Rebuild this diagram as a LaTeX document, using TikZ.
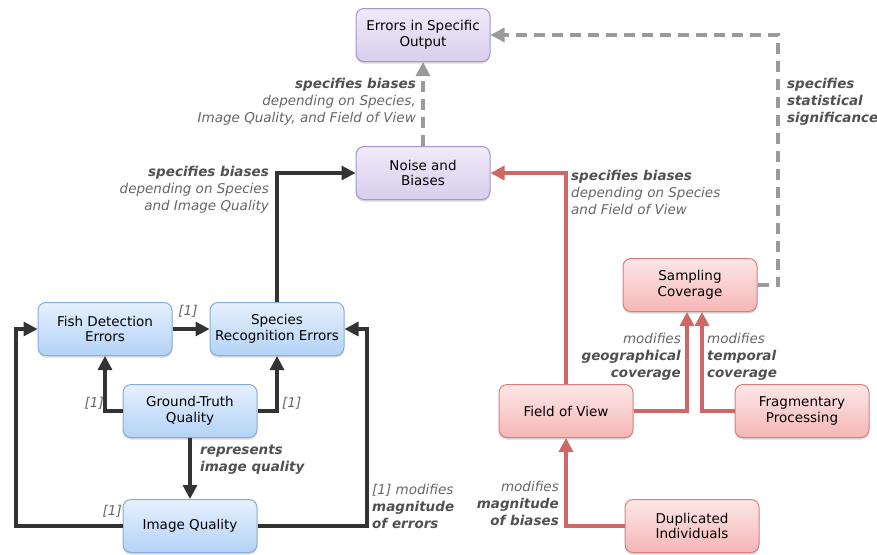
\documentclass[tikz,border=0pt]{standalone}
\usepackage{fontspec}
\setmainfont{DejaVu Sans}[BoldFont={DejaVu Sans Bold},ItalicFont={DejaVu Sans Oblique},BoldItalicFont={DejaVu Sans Bold Oblique}]
\usetikzlibrary{arrows.meta,shadows}
\definecolor{bluetop}{HTML}{E6F0FD}
\definecolor{bluebot}{HTML}{B3D3F7}
\definecolor{bluedraw}{HTML}{86ACDB}
\definecolor{purtop}{HTML}{F0EAF8}
\definecolor{purbot}{HTML}{D8CEEE}
\definecolor{purdraw}{HTML}{A595CB}
\definecolor{redtop}{HTML}{FDE7E7}
\definecolor{redbot}{HTML}{F6B6B6}
\definecolor{reddraw}{HTML}{D77F7F}
\definecolor{darkline}{HTML}{333333}
\definecolor{redline}{HTML}{CD6866}
\definecolor{grayline}{HTML}{9A9A9A}
\definecolor{lblbold}{HTML}{505050}
\definecolor{lblit}{HTML}{666666}
\newcommand\lbb[1]{{\bfseries\itshape\color{lblbold}#1}}
\newcommand\lbi[1]{{\itshape\color{lblit}#1}}
\begin{document}
\begin{tikzpicture}[x=1pt,y=-1pt,
  box/.style={rounded corners=8pt, minimum width=134pt, minimum height=53pt,
    align=center, line width=1pt, inner sep=2pt,
    font=\fontsize{13.5}{15.5}\selectfont,
    drop shadow={shadow xshift=0pt,shadow yshift=-2pt,opacity=0.25,fill=black!60}},
  bluebox/.style={box, draw=bluedraw, top color=bluetop, bottom color=bluebot},
  purbox/.style={box, draw=purdraw, top color=purtop, bottom color=purbot},
  redbox/.style={box, draw=reddraw, top color=redtop, bottom color=redbot},
  conn/.style={line width=3.2pt, -{Triangle[length=14pt,width=14pt]}},
  dk/.style={conn, draw=darkline},
  rd/.style={conn, draw=redline},
  gr/.style={conn, draw=grayline, dash pattern=on 11pt off 7pt},
  lbl/.style={inner sep=0pt, font=\fontsize{13.5}{16.8}\selectfont},
]
\useasboundingbox (0,0) rectangle (877,554);

% nodes
\node[purbox] (eso) at (423,35) {Errors in Specific\\Output};
\node[purbox] (nb)  at (423,173) {Noise and\\Biases};
\node[bluebox] (fde) at (105,329) {Fish Detection\\Errors};
\node[bluebox] (sre) at (277,329) {Species\\Recognition Errors};
\node[bluebox] (gt)  at (190,411) {Ground-Truth\\Quality};
\node[bluebox] (iq)  at (190,526) {Image Quality};
\node[redbox] (sc)  at (690,285) {Sampling\\Coverage};
\node[redbox] (fov) at (566,411) {Field of View};
\node[redbox] (fp)  at (802,411) {Fragmentary\\Processing};
\node[redbox] (di)  at (692,526) {Duplicated\\Individuals};

% helper coordinates
\coordinate (cl) at (16,526);
\coordinate (cr) at (367,526);
\coordinate (cg) at (778,285);
\coordinate (scl) at ([xshift=-3pt]sc.south);
\coordinate (scr) at ([xshift=12pt]sc.south);

% connectors
\draw[gr] (nb.north) -- (eso.south);
\draw[gr] (sc.east) -- (cg) |- (eso.east);
\draw[dk] (sre.north) |- (nb.west);
\draw[rd] (fov.north) |- (nb.east);
\draw[dk] (fde.east) -- (sre.west);
\draw[dk] (gt.west) -| (fde.south);
\draw[dk] (gt.east) -| (sre.south);
\draw[dk] (gt.south) -- (iq.north);
\draw[dk] (iq.west) -- (cl) |- (fde.west);
\draw[dk] (iq.east) -- (cr) |- (sre.east);
\draw[rd] (fov.east) -| (scl);
\draw[rd] (fp.west) -| (scr);
\draw[rd] (di.west) -| (fov.south);

% labels
\node[lbl, anchor=north east, align=right] (l1) at (416,78)
  {\lbb{specifies biases}\\\lbi{depending on Species,}\\\lbi{Image Quality, and Field of View}};
\node[lbl, anchor=north east, align=right] (l2) at (269,166)
  {\lbb{specifies biases}\\\lbi{depending on Species}\\\lbi{and Image Quality}};
\node[lbl, anchor=north west, align=left] (l3) at (571,170)
  {\lbb{specifies biases}\\\lbi{depending on Species}\\\lbi{and Field of View}};
\node[lbl, anchor=north west, align=left] (l4) at (787,78)
  {\lbb{specifies}\\\lbb{statistical}\\\lbb{significance}};
\node[lbl] (l5) at (188,311) {\lbi{[1]}};
\node[lbl, anchor=east] (l6) at (104,403) {\lbi{[1]}};
\node[lbl, anchor=west] (l7) at (282,403) {\lbi{[1]}};
\node[lbl, anchor=north west, align=left] (l8) at (200,445)
  {\lbb{represents}\\\lbb{image quality}};
\node[lbl, anchor=east] (l9) at (122,511) {\lbi{[1]}};
\node[lbl, anchor=north west, align=left] (l10) at (372,484)
  {\lbi{[1] modifies}\\\lbb{magnitude}\\\lbb{of errors}};
\node[lbl, anchor=north east, align=right] (l11) at (681,333)
  {\lbi{modifies}\\\lbb{geographical}\\\lbb{coverage}};
\node[lbl, anchor=north west, align=left] (l12) at (707,333)
  {\lbi{modifies}\\\lbb{temporal}\\\lbb{coverage}};
\node[lbl, anchor=north east, align=right] (l13) at (559,481)
  {\lbi{modifies}\\\lbb{magnitude}\\\lbb{of biases}};
\end{tikzpicture}
\end{document}
